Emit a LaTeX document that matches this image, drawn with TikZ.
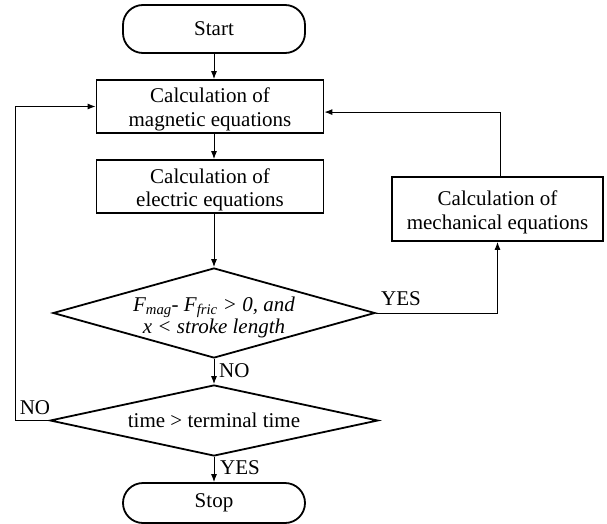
\documentclass[tikz,border=0pt]{standalone}
\usepackage{fontspec}
\setmainfont{Liberation Serif}
\usetikzlibrary{arrows.meta,shapes.geometric,calc}
\newcommand{\uplift}{\rule{0pt}{21pt}}
\begin{document}
\begin{tikzpicture}[x=1pt,y=-1pt,
  every node/.style={font=\fontsize{21}{23.5}\selectfont},
  term/.style={draw,line width=1.8pt,rounded corners=20pt,minimum width=182pt,inner sep=0pt},
  procbox/.style={draw,line width=1.8pt,align=center,inner sep=0pt},
  decision/.style={draw,diamond,line width=1.8pt,align=center,inner sep=0pt,aspect=3.5},
  conn/.style={line width=0.9pt,-{Latex[length=8pt,width=6pt]}},
  lbl/.style={inner sep=1pt}]
\useasboundingbox (0,0) rectangle (607,524);
\node[term,minimum height=48pt] (start) at (214,29) {Start};
\node[procbox,minimum width=227pt,minimum height=53pt] (mag) at (210,106.5) {\uplift Calculation of\\magnetic equations};
\node[procbox,minimum width=227pt,minimum height=53pt] (ele) at (210,186.5) {\uplift Calculation of\\electric equations};
\node[procbox,minimum width=211pt,minimum height=64pt] (mech) at (497.5,209) {\uplift Calculation of\\mechanical equations};
\node[decision,minimum width=322pt,minimum height=90pt] (cond) at (214,313) {};
\node[align=center,font=\fontsize{21}{22}\selectfont\itshape] (condtxt) at (214,317)
  {F\textsubscript{mag}- F\textsubscript{fric} > 0, and\\x < stroke length};
\node[decision,minimum width=328pt,minimum height=71pt] (time) at (214,420.5) {};
\node (timetxt) at (214,420) {time > terminal time};
\node[term,minimum height=40pt] (stop) at (214,503) {Stop};
% connectors
\draw[conn] (start.south) -- (start.south |- mag.north);
\draw[conn] (mag.south -| start.south) -- (ele.north -| start.south);
\draw[conn] (ele.south -| start.south) -- (cond.north);
\draw[conn] (cond.south) -- (time.north);
\draw[conn] (time.south) -- (stop.north);
\coordinate (yesturn) at (mech.south |- cond.east);
\draw[conn] (cond.east) -- (yesturn) -- (mech.south);
\coordinate (mechup) at ($(mech.north)+(3,-64)$);
\draw[conn] (mech.north -| mechup) -- (mechup) -- (mechup -| mag.east);
\coordinate (noleft) at (15,420.5);
\draw[conn] (time.west) -- (noleft) -- (noleft |- mag.west) -- (mag.west);
% labels
\node[lbl,anchor=west] (no1) at (218,371) {NO};
\node[lbl,anchor=west] (yes2) at (219,468) {YES};
\node[lbl] (no2) at (35,408) {NO};
\node[lbl] (yes1) at (401,299) {YES};
\end{tikzpicture}
\end{document}
